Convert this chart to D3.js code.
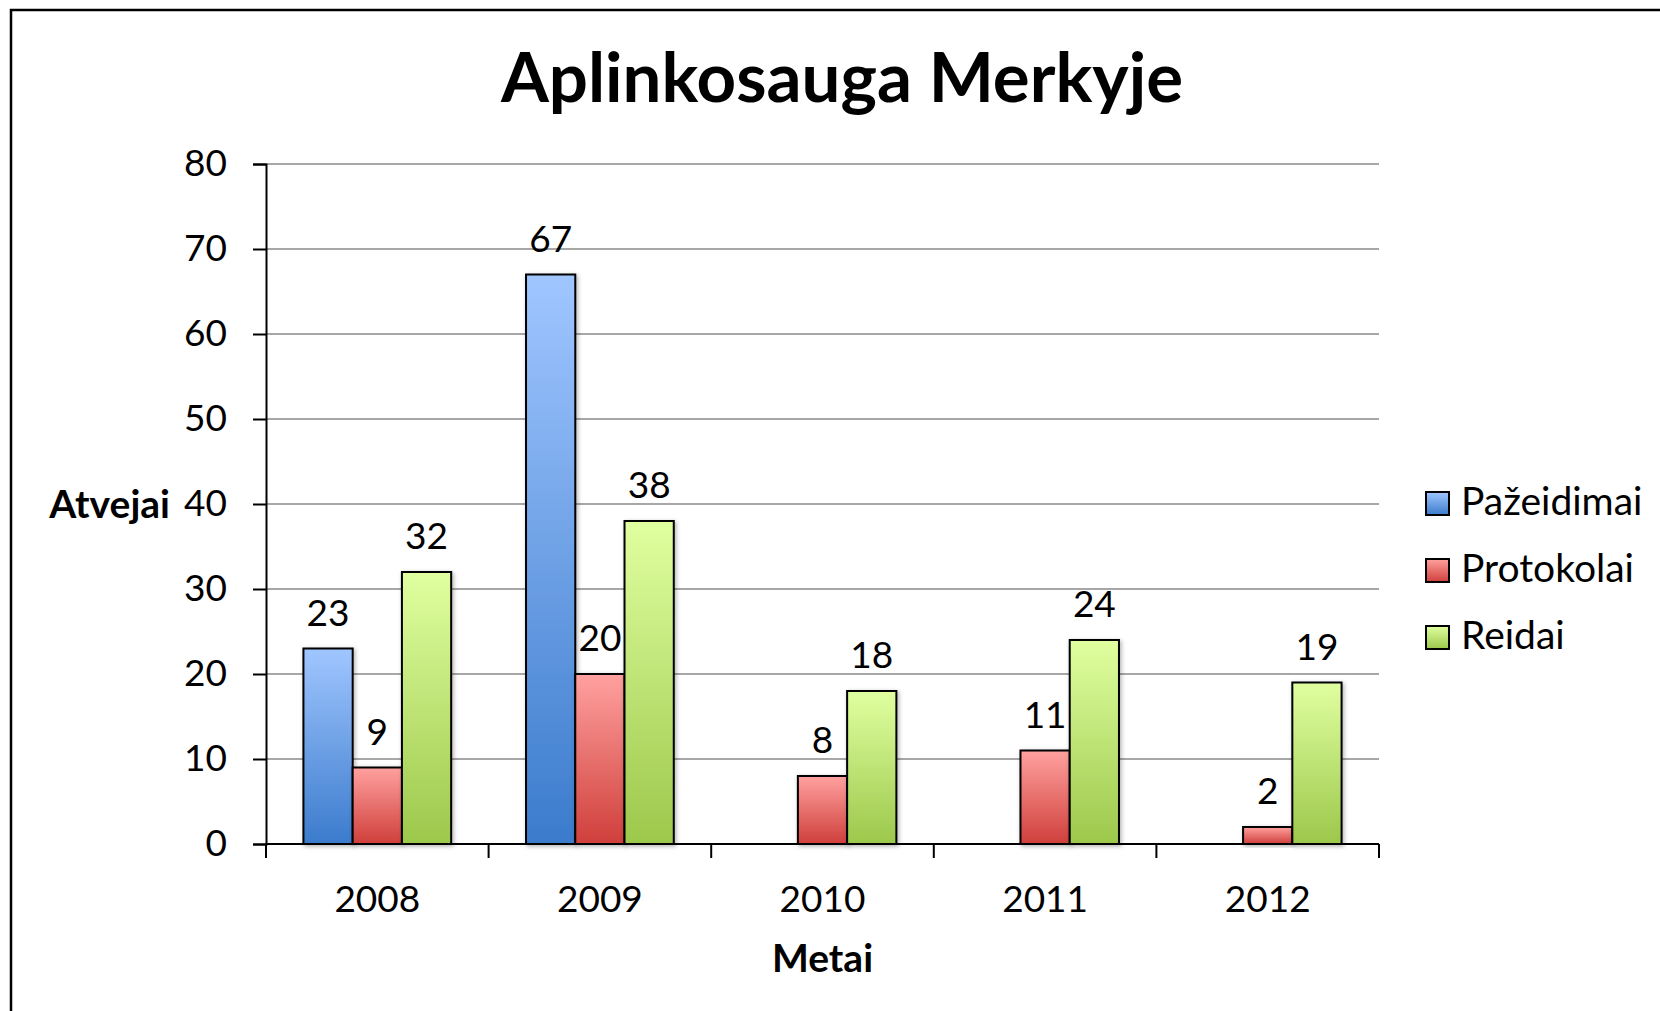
<!DOCTYPE html>
<html>
<head>
<meta charset="utf-8">
<script src="https://cdn.jsdelivr.net/npm/d3@7"></script>
<style>
  body { margin: 0; background: #fff; }
  svg { display: block; font-family: Lato, "Open Sans", sans-serif; }
</style>
</head>
<body>
<svg id="chart" width="1660" height="1011"></svg>
<script>
// chart data
const years = ['2008', '2009', '2010', '2011', '2012'];
const seriesNames = ['Pažeidimai', 'Protokolai', 'Reidai'];
const pazeidimai = [23, 67, null, null, null];
const protokolai = [9, 20, 8, 11, 2];
const reidai = [32, 38, 18, 24, 19];
const yTicks = [0, 10, 20, 30, 40, 50, 60, 70, 80];

const seriesValues = [pazeidimai, protokolai, reidai];
const gradStops = [
    ['#a0c6ff', '#3b7bcc'],
    ['#ffa19f', '#cf3f3b'],
    ['#e0ffa0', '#9cc84b']
];

(function () {

const svg = d3.select('#chart'),
    plotLeft = 266, plotRight = 1379, plotTop = 164, plotBottom = 844;

const x = d3.scaleBand().domain(years).range([plotLeft, plotRight]);
const xs = d3.scaleBand().domain(seriesNames).range([0, x.bandwidth()]).paddingOuter(0.76);
const y = d3.scaleLinear().domain([0, 80]).range([plotBottom, plotTop]);

const defs = svg.append('defs');
gradStops.forEach((c, i) => {
    let g = defs.append('linearGradient').attr('id', 'g' + i)
        .attr('x1', 0).attr('y1', 0).attr('x2', 0).attr('y2', 1);
    g.append('stop').attr('offset', '0%').attr('stop-color', c[0]);
    g.append('stop').attr('offset', '100%').attr('stop-color', c[1]);
});
defs.append('filter').attr('id', 'shadow')
    .attr('x', '-20%').attr('y', '-20%').attr('width', '140%').attr('height', '140%')
    .append('feDropShadow')
    .attr('dx', 1.5).attr('dy', 1.5).attr('stdDeviation', 2)
    .attr('flood-color', '#000').attr('flood-opacity', 0.3);

// outer frame (runs off the right and bottom edge)
svg.append('rect')
    .attr('x', 11).attr('y', 10).attr('width', 1800).attr('height', 1200)
    .attr('fill', 'none').attr('stroke', '#000').attr('stroke-width', 2.5);

// title
svg.append('text')
    .attr('x', 842).attr('y', 102)
    .attr('text-anchor', 'middle')
    .attr('font-size', 69).attr('font-weight', 'bold')
    .text('Aplinkosauga Merkyje');

// gridlines
svg.append('g').selectAll('line')
    .data(yTicks.filter(d => d > 0))
    .enter().append('line')
    .attr('x1', plotLeft).attr('x2', plotRight)
    .attr('y1', d => y(d)).attr('y2', d => y(d))
    .attr('stroke', '#8a8a8a').attr('stroke-width', 1.6);

// y axis
const yAxis = svg.append('g')
    .attr('transform', `translate(${plotLeft},0)`)
    .call(d3.axisLeft(y).tickValues(yTicks).tickSize(13).tickPadding(26).tickFormat(d3.format('d')));
yAxis.select('.domain').attr('stroke', '#000').attr('stroke-width', 2);
yAxis.selectAll('.tick line').attr('stroke', '#000').attr('stroke-width', 2);
yAxis.selectAll('text').attr('font-size', 37).attr('font-family', 'Lato').attr('fill', '#000');

// x axis with ticks at category borders
const xAxisG = svg.append('g').attr('transform', `translate(0,${plotBottom})`);
xAxisG.append('line').attr('x1', plotLeft).attr('x2', plotRight)
    .attr('stroke', '#000').attr('stroke-width', 2);
xAxisG.selectAll('.xt')
    .data(years.concat(['end']))
    .enter().append('line')
    .attr('x1', d => d === 'end' ? plotRight : x(d))
    .attr('x2', d => d === 'end' ? plotRight : x(d))
    .attr('y1', 0).attr('y2', 14)
    .attr('stroke', '#000').attr('stroke-width', 2);
xAxisG.selectAll('.xl')
    .data(years)
    .enter().append('text')
    .attr('x', d => x(d) + x.bandwidth() / 2)
    .attr('y', 68)
    .attr('text-anchor', 'middle')
    .attr('font-size', 37)
    .text(d => d);

// axis titles
svg.append('text')
    .attr('x', 170).attr('y', y(40) + 14)
    .attr('text-anchor', 'end')
    .attr('font-size', 39).attr('font-weight', 'bold')
    .text('Atvejai');
svg.append('text')
    .attr('x', (plotLeft + plotRight) / 2).attr('y', 972)
    .attr('text-anchor', 'middle')
    .attr('font-size', 39).attr('font-weight', 'bold')
    .text('Metai');

// bars
seriesNames.forEach((name, si) => {
    let data = years.map((yr, i) => ({ yr: yr, v: seriesValues[si][i] }))
        .filter(d => d.v !== null);
    let g = svg.append('g');
    g.selectAll('rect')
        .data(data)
        .enter().append('rect')
        .attr('x', d => x(d.yr) + xs(name))
        .attr('y', d => y(d.v))
        .attr('width', xs.bandwidth())
        .attr('height', d => plotBottom - y(d.v))
        .attr('fill', `url(#g${si})`)
        .attr('stroke', '#000').attr('stroke-width', 2)
        .attr('filter', 'url(#shadow)');
    g.selectAll('text')
        .data(data)
        .enter().append('text')
        .attr('x', d => x(d.yr) + xs(name) + xs.bandwidth() / 2)
        .attr('y', d => y(d.v) - 23)
        .attr('text-anchor', 'middle')
        .attr('font-size', 37)
        .text(d => d.v);
});

// legend
const legend = svg.append('g').selectAll('g')
    .data(seriesNames)
    .enter().append('g')
    .attr('transform', (d, i) => `translate(1426,${492 + i * 67})`);
legend.append('rect')
    .attr('width', 23).attr('height', 23)
    .attr('fill', (d, i) => `url(#g${i})`)
    .attr('stroke', '#000').attr('stroke-width', 2);
legend.append('text')
    .attr('x', 35).attr('y', 23)
    .attr('font-size', 39)
    .text(d => d);

}());
</script>
</body>
</html>
